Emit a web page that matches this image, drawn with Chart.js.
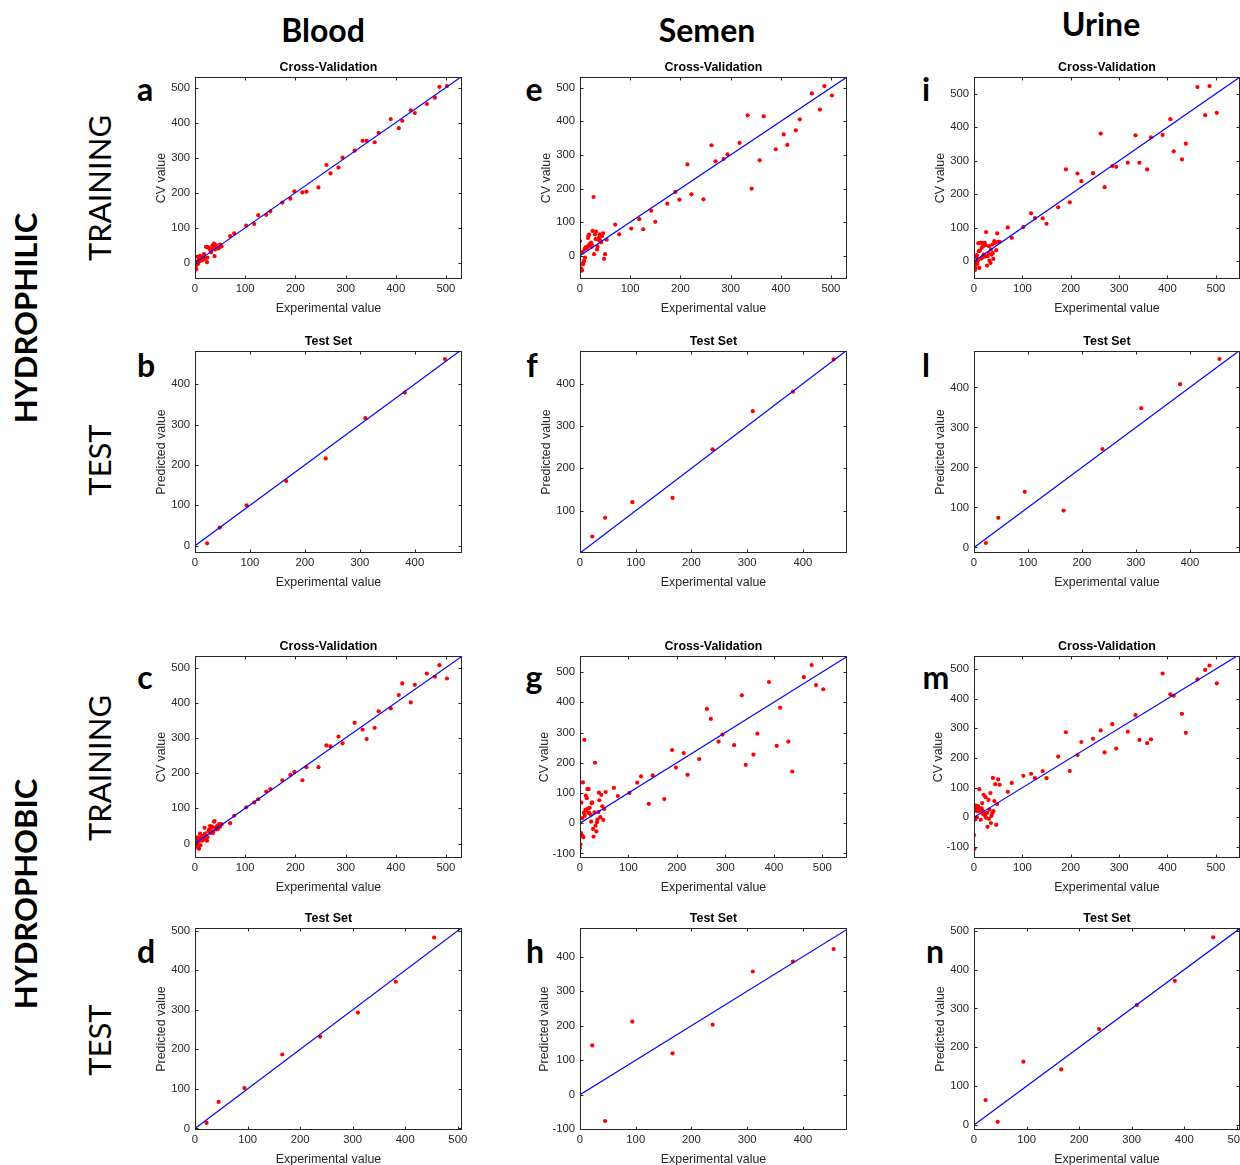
<!DOCTYPE html>
<html>
<head>
<meta charset="utf-8">
<title>Cross-validation and test set plots</title>
<script src="https://cdn.jsdelivr.net/npm/chart.js@4.4.1/dist/chart.umd.min.js"></script>
<style>
  html, body { margin: 0; padding: 0; background: #fff; overflow: hidden; width: 1240px; height: 1165px; }
  canvas { position: absolute; }
  .lbl { position: absolute; font-family: Lato, "Open Sans", sans-serif; color: #000; line-height: 1; white-space: nowrap; }
  .hdr { font-weight: 700; font-size: 32px; transform: translateX(-50%); }
  .grp { font-weight: 700; font-size: 31px; transform: translate(-50%, -50%) rotate(-90deg); }
  .set { font-weight: 400; font-size: 31px; transform: translate(-50%, -50%) rotate(-90deg); }
  .let { font-weight: 700; font-size: 32px; transform: translateX(-50%); }
</style>
</head>
<body>

<div class="lbl hdr" style="left:323px; top:14px;">Blood</div>
<div class="lbl hdr" style="left:707px; top:14px;">Semen</div>
<div class="lbl hdr" style="left:1101px; top:8px;">Urine</div>

<div class="lbl grp" style="left:25px; top:318px;">HYDROPHILIC</div>
<div class="lbl grp" style="left:25px; top:894px;">HYDROPHOBIC</div>

<div class="lbl set" style="left:99px; top:188px;">TRAINING</div>
<div class="lbl set" style="left:99px; top:460px;">TEST</div>
<div class="lbl set" style="left:99px; top:768px;">TRAINING</div>
<div class="lbl set" style="left:99px; top:1040px;">TEST</div>

<div class="lbl let" style="left:145px; top:73px;">a</div>
<div class="lbl let" style="left:146px; top:349px;">b</div>
<div class="lbl let" style="left:145px; top:661px;">c</div>
<div class="lbl let" style="left:146px; top:935px;">d</div>
<div class="lbl let" style="left:534px; top:73px;">e</div>
<div class="lbl let" style="left:532px; top:349px;">f</div>
<div class="lbl let" style="left:534px; top:661px;">g</div>
<div class="lbl let" style="left:535px; top:935px;">h</div>
<div class="lbl let" style="left:926px; top:73px;">i</div>
<div class="lbl let" style="left:926px; top:349px;">l</div>
<div class="lbl let" style="left:936px; top:661px;">m</div>
<div class="lbl let" style="left:935px; top:935px;">n</div>

<script>
// Experimental values: training compounds (shared by all CV panels) and test compounds
const TRAIN_X = [0, 1, 2, 2, 3, 4, 5, 6, 7, 8, 9, 10, 11, 12, 14, 15, 16, 17, 18, 19, 20,
  22, 23, 24, 25, 27, 28, 30, 31, 32, 34, 35, 36, 38, 39, 40, 42, 44, 46, 48, 50, 53,
  70, 78, 102, 118, 126, 142, 150, 174, 190, 198, 214, 222, 246, 262, 270, 286, 294,
  318, 334, 342, 358, 366, 390, 406, 413, 430, 438, 462, 478, 487, 502];
const TEST_X = [22, 45, 94, 166, 238, 310, 382, 455];

// Hydrophilic — cross-validation predictions
const CV_BLOOD_PHILIC = [-8, -12, -19, -16, -5, 2, 18, -3, 8, 4, 14, 20, 10, 6, 16, 8, 18, 12, 25, 14, 11,
  46, 45, 2, 15, 44, 42, 40, 36, 30, 41, 50, 47, 55, 19, 38, 50, 43, 41, 43, 52, 47,
  76, 84, 106, 111, 136, 137, 147, 172, 183, 204, 201, 203, 215, 279, 255, 272, 300,
  320, 348, 348, 344, 371, 410, 384, 405, 435, 427, 453, 471, 502, 504];
const CV_SEMEN_PHILIC = [44, -42, -42, -37, -41, -44, 11, -25, -19, -15, 20, -5, 25, 22, 24, 28, 53, 60, 63, 35, 30,
  39, 27, 32, 74, 175, 5, 64, 50, 72, 19, 28, 48, 54, 64, 46, 40, 59, 67, -9, 5, 48,
  93, 64, 81, 109, 79, 134, 101, 155, 190, 167, 272, 183, 168, 329, 281, 288, 302,
  336, 418, 200, 284, 415, 317, 361, 330, 373, 406, 483, 435, 505, 477];
const CV_URINE_PHILIC = [12, -5, -18, -26, -22, -10, 13, 18, -8, 2, 54, 30, -20, 32, 55, 8, 40, 55, 12, 45, 20,
  55, 14, 48, 87, -13, 15, 25, 45, 2, -5, 35, 20, 50, 24, 7, 60, 55, 33, 83, 58, 58,
  101, 70, 102, 143, 129, 128, 112, 161, 274, 176, 262, 239, 263, 381, 221, 284, 282,
  294, 376, 294, 274, 370, 377, 424, 328, 304, 351, 520, 436, 523, 443];

// Hydrophilic — test set predictions
const TEST_BLOOD_PHILIC = [6, 45, 100, 160, 216, 316, 379, 462];
const TEST_SEMEN_PHILIC = [39, 83, 120, 130, 245, 335, 381, 457];
const TEST_URINE_PHILIC = [11, 74, 139, 92, 246, 348, 408, 471];

// Hydrophobic — cross-validation predictions
const CV_BLOOD_PHOBIC = [-4, -8, -3, 10, -10, 2, 18, -12, 5, -15, 12, 28, -5, 18, 8, 22, 12, 15, 20, 45, 28,
  10, 20, 8, 18, 35, 40, 50, 30, 45, 48, 35, 30, 62, 64, 45, 40, 50, 42, 55, 48, 55,
  58, 79, 103, 117, 126, 148, 155, 180, 195, 204, 180, 217, 217, 279, 276, 304, 285,
  343, 324, 297, 329, 376, 384, 422, 455, 401, 451, 483, 474, 507, 469];
const CV_SEMEN_PHOBIC = [-82, -70, -33, -38, 68, -40, 17, 135, -46, 34, 276, 25, 44, 91, 83, 113, 48, 35, 113, 35, 51,
  28, 5, 66, 69, -19, -44, 36, 200, -8, -27, 3, 12, 37, 101, 76, 20, 94, 56, 11, 47, 103,
  117, 90, 100, 134, 155, 64, 158, 80, 242, 184, 232, 160, 212, 378, 345, 270, 293,
  258, 423, 193, 227, 296, 467, 256, 382, 270, 171, 483, 523, 457, 443];
const CV_URINE_PHOBIC = [-60, -106, -8, 26, 35, 40, 22, 0, 31, 38, 35, 20, 95, 26, -8, 24, 30, 48, 12, 20, 76,
  9, 5, 68, -1, 15, -32, 59, -5, 26, 82, -19, 5, 13, 133, 21, 55, 112, -25, 45, 128, 110,
  86, 116, 140, 147, 132, 156, 132, 205, 287, 156, 210, 254, 265, 293, 219, 314, 232,
  289, 345, 261, 250, 263, 485, 415, 410, 349, 285, 465, 497, 512, 452];

// Hydrophobic — test set predictions
const TEST_BLOOD_PHOBIC = [14, 67, 102, 187, 232, 293, 371, 483];
const TEST_SEMEN_PHOBIC = [143, -76, 212, 120, 203, 357, 386, 422];
const TEST_URINE_PHOBIC = [64, 8, 163, 143, 247, 309, 371, 483];

// Tick labels
const TICKS_0_500 = [0, 100, 200, 300, 400, 500];
const TICKS_0_400 = [0, 100, 200, 300, 400];
const TICKS_100_400 = [100, 200, 300, 400];
const TICKS_M100_500 = [-100, 0, 100, 200, 300, 400, 500];
const TICKS_M100_400 = [-100, 0, 100, 200, 300, 400];

// Page grid (plot-box positions, px)
const COL_LEFT = [195, 580, 974];
const COL_W = [267, 267, 266];
const ROW_TOP = [77, 351, 656, 928];
const ROW_H = 202;
const TITLE_H = 19;   // 15px line + 2 + 2 padding
const X_AXIS_H = 37;
const PAD_R = 12;
const TICK_LEN = 3;

const FONT = "'Liberation Sans', Arial, sans-serif";
const AXIS_COLOR = "#262626";

Chart.defaults.font.family = FONT;

const CV = "Cross-Validation", TS = "Test Set";
const PANELS = [
  { col: 0, row: 0, title: CV, yTitle: "CV value", xs: TRAIN_X, ys: CV_BLOOD_PHILIC, xMax: 532, yMin: -46, yMax: 530, xTicks: TICKS_0_500, yTicks: TICKS_0_500 },
  { col: 1, row: 0, title: CV, yTitle: "CV value", xs: TRAIN_X, ys: CV_SEMEN_PHILIC, xMax: 532, yMin: -69, yMax: 532, xTicks: TICKS_0_500, yTicks: TICKS_0_500 },
  { col: 2, row: 0, title: CV, yTitle: "CV value", xs: TRAIN_X, ys: CV_URINE_PHILIC, xMax: 550, yMin: -53, yMax: 550, xTicks: TICKS_0_500, yTicks: TICKS_0_500 },
  { col: 0, row: 1, title: TS, yTitle: "Predicted value", xs: TEST_X, ys: TEST_BLOOD_PHILIC, xMax: 486, yMin: -18, yMax: 482, xTicks: TICKS_0_400, yTicks: TICKS_0_400 },
  { col: 1, row: 1, title: TS, yTitle: "Predicted value", xs: TEST_X, ys: TEST_SEMEN_PHILIC, xMax: 479, yMin: 0, yMax: 477, xTicks: TICKS_0_400, yTicks: TICKS_100_400 },
  { col: 2, row: 1, title: TS, yTitle: "Predicted value", xs: TEST_X, ys: TEST_URINE_PHILIC, xMax: 493, yMin: -14, yMax: 491, xTicks: TICKS_0_400, yTicks: TICKS_0_400 },
  { col: 0, row: 2, title: CV, yTitle: "CV value", xs: TRAIN_X, ys: CV_BLOOD_PHOBIC, xMax: 532, yMin: -41, yMax: 533, xTicks: TICKS_0_500, yTicks: TICKS_0_500 },
  { col: 1, row: 2, title: CV, yTitle: "CV value", xs: TRAIN_X, ys: CV_SEMEN_PHOBIC, xMax: 551, yMin: -115, yMax: 553, xTicks: TICKS_0_500, yTicks: TICKS_M100_500 },
  { col: 2, row: 2, title: CV, yTitle: "CV value", xs: TRAIN_X, ys: CV_URINE_PHOBIC, xMax: 550, yMin: -137, yMax: 544, xTicks: TICKS_0_500, yTicks: TICKS_M100_500 },
  { col: 0, row: 3, title: TS, yTitle: "Predicted value", xs: TEST_X, ys: TEST_BLOOD_PHOBIC, xMax: 508, yMin: -4, yMax: 507, xTicks: TICKS_0_500, yTicks: TICKS_0_500 },
  { col: 1, row: 3, title: TS, yTitle: "Predicted value", xs: TEST_X, ys: TEST_SEMEN_PHOBIC, xMax: 479, yMin: -102, yMax: 483, xTicks: TICKS_0_400, yTicks: TICKS_M100_400 },
  { col: 2, row: 3, title: TS, yTitle: "Predicted value", xs: TEST_X, ys: TEST_URINE_PHOBIC, xMax: 506, yMin: -13, yMax: 507, xTicks: TICKS_0_500, yTicks: TICKS_0_500 },
];

// MATLAB-style box: full frame with inward ticks on all four sides
const boxTicks = {
  id: "boxTicks",
  afterDraw(chart) {
    const { ctx, chartArea: a, scales: { x, y } } = chart;
    const L = Math.round(a.left) + 0.5, R = Math.round(a.right) - 0.5;
    const T = Math.round(a.top) + 0.5, B = Math.round(a.bottom) - 0.5;
    ctx.save();
    ctx.strokeStyle = AXIS_COLOR;
    ctx.lineWidth = 1;
    ctx.strokeRect(L, T, R - L, B - T);
    ctx.beginPath();
    x.ticks.forEach(t => {
      const px = Math.round(x.getPixelForValue(t.value)) + 0.5;
      ctx.moveTo(px, B); ctx.lineTo(px, B - TICK_LEN);
      ctx.moveTo(px, T); ctx.lineTo(px, T + TICK_LEN);
    });
    y.ticks.forEach(t => {
      const py = Math.round(y.getPixelForValue(t.value)) + 0.5;
      ctx.moveTo(L, py); ctx.lineTo(L + TICK_LEN, py);
      ctx.moveTo(R, py); ctx.lineTo(R - TICK_LEN, py);
    });
    ctx.stroke();
    ctx.restore();
  },
};

function renderPanel(p) {
  const yW = p.yTicks[0] < 0 ? 43 : 41;
  const w = yW + COL_W[p.col] + PAD_R;
  const h = TITLE_H + ROW_H + X_AXIS_H;

  const canvas = document.createElement("canvas");
  canvas.width = w;
  canvas.height = h;
  canvas.style.left = (COL_LEFT[p.col] - yW) + "px";
  canvas.style.top = (ROW_TOP[p.row] - TITLE_H) + "px";
  canvas.style.width = w + "px";
  canvas.style.height = h + "px";
  document.body.appendChild(canvas);

  const lim = Math.max(p.xMax, p.yMax);

  new Chart(canvas, {
    type: "scatter",
    data: {
      datasets: [
        {
          // y = x reference line
          data: [{ x: 0, y: 0 }, { x: lim, y: lim }],
          showLine: true,
          borderColor: "#0000FF",
          borderWidth: 1.2,
          pointRadius: 0,
        },
        {
          data: p.xs.map((x, i) => ({ x, y: p.ys[i] })),
          backgroundColor: "#FF0000",
          borderWidth: 0,
          pointRadius: 2.1,
        },
      ],
    },
    options: {
      responsive: false,
      animation: false,
      devicePixelRatio: 1,
      layout: { padding: { left: 0, right: PAD_R, top: 0, bottom: 0 } },
      plugins: {
        legend: { display: false },
        tooltip: { enabled: false },
        title: {
          display: true,
          text: p.title,
          color: "#000",
          fullSize: false,
          font: { size: 12.4, weight: "bold", lineHeight: "15px" },
          padding: { top: 2, bottom: 2 },
        },
      },
      scales: {
        x: {
          type: "linear",
          min: 0,
          max: p.xMax,
          grid: { display: false, drawTicks: false },
          border: { display: false },
          afterBuildTicks: s => { s.ticks = p.xTicks.map(v => ({ value: v })); },
          afterFit: s => { s.height = X_AXIS_H; },
          ticks: { color: AXIS_COLOR, font: { size: 11.3 }, padding: 3, maxRotation: 0, autoSkip: false, callback: v => String(v) },
          title: { display: true, text: "Experimental value", color: AXIS_COLOR, font: { size: 12.4, lineHeight: "15px" }, padding: 0 },
        },
        y: {
          type: "linear",
          min: p.yMin,
          max: p.yMax,
          grid: { display: false, drawTicks: false },
          border: { display: false },
          afterBuildTicks: s => { s.ticks = p.yTicks.map(v => ({ value: v })); },
          afterFit: s => { s.width = yW; },
          ticks: { color: AXIS_COLOR, font: { size: 11.3 }, padding: 5, autoSkip: false, callback: v => String(v) },
          title: { display: true, text: p.yTitle, color: AXIS_COLOR, font: { size: 12.4, lineHeight: "15px" }, padding: 0 },
        },
      },
    },
    plugins: [boxTicks],
  });
}

PANELS.forEach(renderPanel);
</script>
</body>
</html>
